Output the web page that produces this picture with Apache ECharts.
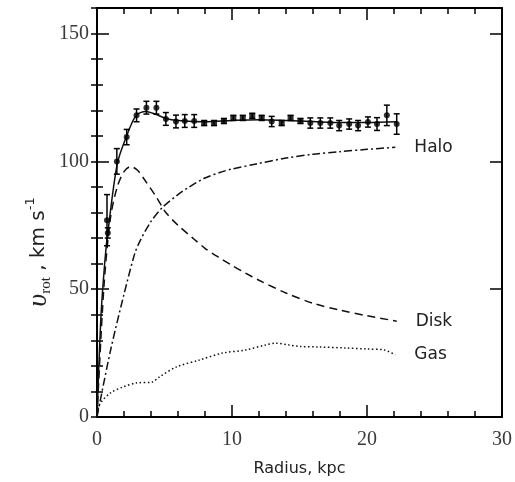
<!DOCTYPE html>
<html>
<head>
<meta charset="utf-8">
<script src="https://cdn.jsdelivr.net/npm/echarts@6/dist/echarts.min.js"></script>
<style>
  html, body { margin: 0; padding: 0; background: #fff; }
  #chart { width: 515px; height: 482px; }
</style>
</head>
<body>
<div id="chart"></div>
<script>
// observed rotation curve (kpc, km/s, error)
const obsR = [0.74, 0.8, 1.47, 2.2, 2.93, 3.66, 4.4, 5.1, 5.85, 6.5, 7.2, 7.94, 8.67, 9.4, 10.1, 10.8, 11.5, 12.2, 12.94, 13.68, 14.34, 15.07, 15.8, 16.54, 17.28, 17.94, 18.68, 19.34, 20.07, 20.74, 21.47, 22.2]
const obsV = [77, 72, 100, 109.5, 118, 121, 121, 116.6, 115.6, 115.8, 115.8, 115, 115, 115.8, 117, 117, 117.8, 117, 115.6, 115, 117, 115.8, 115, 115, 115, 114, 114.6, 114, 115.4, 114.6, 118, 114.6]
const obsErr = [10, 2, 5, 3, 2.5, 2.5, 2.5, 2.5, 2.5, 2.5, 2.5, 1, 1, 1, 1, 1, 1, 1, 2, 1, 1, 1, 2, 2, 2, 2, 2, 2, 2, 2.5, 4, 4]

// model components
const totalR = [0, 0.3, 0.6, 0.8, 1.5, 2.2, 2.9, 3.6, 4.3, 5.1, 6, 8, 10, 12, 14, 16, 18, 20, 22.2]
const totalV = [0, 40, 62, 72, 99, 110, 118, 119.5, 118.5, 116.8, 116, 115.5, 116, 116.3, 116, 115.6, 115.2, 115.2, 115.5]

const diskR = [0, 0.5, 1, 1.5, 2, 2.5, 3, 3.5, 4.4, 5.1, 6, 7.1, 8, 9, 10, 11, 12, 14, 16, 18, 20, 22.2]
const diskV = [0, 50, 78, 90, 96, 98, 96.5, 93, 86, 80, 75, 70, 66, 62.5, 59.3, 56.3, 53.5, 48.5, 44.5, 41.8, 39.6, 37.5]

const haloR = [0, 1, 2, 2.8, 3.2, 4, 4.85, 6, 6.84, 8, 9.3, 10, 11.8, 14, 16, 18, 20, 22.1]
const haloV = [0, 26, 48, 64, 69, 76.5, 82, 87, 90, 93.5, 96, 97, 99, 101.3, 102.8, 103.8, 104.7, 105.5]

const gasR = [0, 0.2, 1, 1.9, 2.9, 4.1, 4.6, 5.9, 7.6, 9.3, 11, 12.5, 13.2, 14.2, 15, 16.4, 18.4, 20, 21.3, 22.1]
const gasV = [0, 5, 9.4, 11.7, 13.3, 13.7, 15.6, 19.6, 22.3, 25, 26.2, 28.2, 28.9, 28.2, 27.6, 27.4, 27, 26.6, 26.2, 24.3]

const zip = (xs, ys) => xs.map((x, i) => [x, ys[i]])
const obsData = obsR.map((r, i) => [r, obsV[i], obsErr[i]])

const chart = echarts.init(document.getElementById('chart'), null, { renderer: 'canvas' })

const serif = 'Liberation Serif, Times New Roman, serif'
const sans = 'DejaVu Sans, sans-serif'

const majorAxis = (pos, labels) => ({
  type: 'value',
  position: pos,
  axisLine: { show: true, onZero: false, lineStyle: { color: '#000', width: 2 } },
  axisTick: { show: true, inside: true, length: 12, lineStyle: { color: '#000', width: 1.5 } },
  splitLine: { show: false },
  axisLabel: {
    show: labels,
    fontFamily: serif,
    fontSize: 20,
    color: '#3a3a3a'
  }
})

const minorAxis = (pos) => ({
  type: 'value',
  position: pos,
  min: 0,
  max: 160,
  interval: 10,
  axisLine: { show: false },
  axisTick: { show: true, inside: true, length: 6, lineStyle: { color: '#000', width: 1.5 } },
  splitLine: { show: false },
  axisLabel: { show: false }
})

const xBottom = majorAxis('bottom', true)
Object.assign(xBottom, {
  min: 0, max: 30, interval: 10,
  minorTick: { show: true, splitNumber: 5, length: 6, lineStyle: { color: '#000', width: 1.5 } },
  name: 'Radius, kpc',
  nameLocation: 'middle',
  nameGap: 44,
  nameTextStyle: { fontFamily: sans, fontSize: 16, color: '#222' }
})
xBottom.axisLabel.margin = 13

const xTop = majorAxis('top', false)
Object.assign(xTop, {
  min: 0, max: 30, interval: 10,
  minorTick: { show: true, splitNumber: 5, length: 6, lineStyle: { color: '#000', width: 1.5 } }
})

const yLeft = majorAxis('left', true)
Object.assign(yLeft, { min: 0, max: 160, interval: 50 })
yLeft.axisLabel.margin = 8
yLeft.axisLabel.showMaxLabel = false

const yRight = majorAxis('right', false)
Object.assign(yRight, { min: 0, max: 160, interval: 50 })

const curve = (name, data, dash) => ({
  name: name,
  type: 'line',
  data: data,
  showSymbol: false,
  smooth: 0.3,
  z: 3,
  lineStyle: { color: '#111', width: 1.5, type: dash },
  endLabel: name ? {
    show: true,
    formatter: '{a}',
    distance: 19,
    fontFamily: sans,
    fontSize: 17,
    color: '#222'
  } : { show: false }
})

const option = {
  animation: false,
  backgroundColor: '#fff',
  grid: { left: 97, right: 10, top: 8, bottom: 65, show: false },
  xAxis: [xBottom, xTop],
  yAxis: [yLeft, minorAxis('left'), yRight, minorAxis('right')],
  graphic: [
    {
      type: 'text',
      x: 39,
      y: 252,
      rotation: Math.PI / 2,
      style: {
        text: '{v|\u03c5}{s|rot}{n| , km s}{p|-1}',
        align: 'center',
        verticalAlign: 'middle',
        fill: '#222',
        rich: {
          v: { fontFamily: serif, fontSize: 28, fontStyle: 'italic', lineHeight: 30, verticalAlign: 'middle' },
          s: { fontFamily: serif, fontSize: 15, lineHeight: 30, verticalAlign: 'bottom' },
          n: { fontFamily: sans, fontSize: 20, lineHeight: 30, verticalAlign: 'middle' },
          p: { fontFamily: sans, fontSize: 13, lineHeight: 30, verticalAlign: 'top' }
        }
      }
    }
  ],
  series: [
    curve('', zip(totalR, totalV), 'solid'),
    curve('Disk', zip(diskR, diskV), [8, 5]),
    curve('Halo', zip(haloR, haloV), [8, 3, 2, 3]),
    curve('Gas', zip(gasR, gasV), [1.5, 2.5]),
    {
      type: 'custom',
      data: obsData,
      z: 4,
      renderItem: function (params, api) {
        const x = api.value(0)
        const y = api.value(1)
        const e = api.value(2)
        const top = api.coord([x, y + e])
        const bot = api.coord([x, y - e])
        const style = { stroke: '#000', lineWidth: 1.5 }
        return {
          type: 'group',
          children: [
            { type: 'line', shape: { x1: top[0], y1: top[1], x2: bot[0], y2: bot[1] }, style: style },
            { type: 'line', shape: { x1: top[0] - 3, y1: top[1], x2: top[0] + 3, y2: top[1] }, style: style },
            { type: 'line', shape: { x1: bot[0] - 3, y1: bot[1], x2: bot[0] + 3, y2: bot[1] }, style: style }
          ]
        }
      }
    },
    {
      type: 'scatter',
      data: obsData,
      z: 5,
      symbol: function (val) { return val[2] < 1.5 ? 'rect' : 'circle' },
      symbolSize: 6,
      itemStyle: { color: '#000' }
    }
  ]
}

chart.setOption(option)
</script>
</body>
</html>
